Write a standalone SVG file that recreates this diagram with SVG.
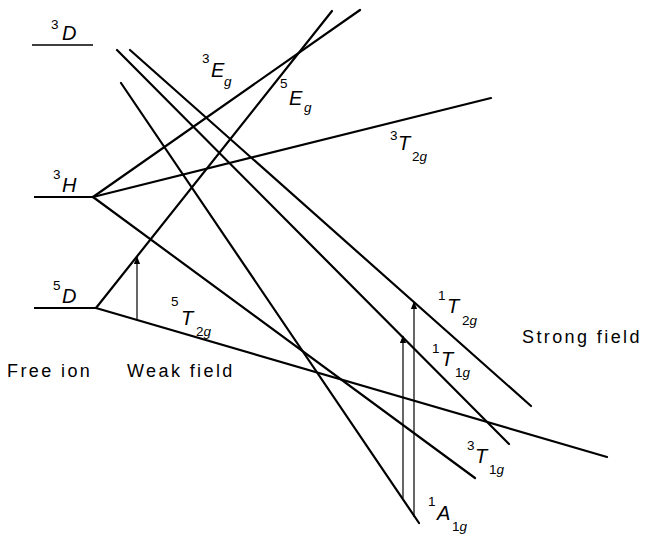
<svg xmlns="http://www.w3.org/2000/svg" width="645" height="536" viewBox="0 0 645 536">
<style>
  .ln{stroke:#000;stroke-width:2.2;fill:none;stroke-linecap:round}
  .lv{stroke:#000;stroke-width:2.2;fill:none}
  .ar{stroke:#000;stroke-width:1.2;fill:none;marker-end:url(#ah)}
  text{font-family:"Liberation Sans",Arial,sans-serif;fill:#000}
  .L{font-size:20px;font-style:italic}
  .s{font-size:13.5px}
  .gi{font-style:italic}
  .cap{font-size:18px;letter-spacing:2.4px}
</style>
<defs>
  <marker id="ah" viewBox="0 0 10 10" refX="9" refY="5" markerWidth="8" markerHeight="8" markerUnits="userSpaceOnUse" orient="auto">
    <path d="M0,1 L10,5 L0,9 Z" fill="#000"/>
  </marker>
</defs>
<g id="levels">
  <line class="lv" x1="32" y1="45" x2="93" y2="45" style="stroke-width:1.6"/>
  <line class="lv" x1="34" y1="197" x2="93" y2="197"/>
  <line class="lv" x1="34" y1="308" x2="96" y2="308"/>
</g>
<g id="connectors">
  <line class="ln" x1="93" y1="197" x2="360" y2="10"/>
  <line class="ln" x1="93" y1="197" x2="491" y2="98"/>
  <line class="ln" x1="93" y1="197" x2="475" y2="478"/>
  <line class="ln" x1="96" y1="308" x2="332" y2="11"/>
  <line class="ln" x1="96" y1="308" x2="607" y2="457"/>
  <line class="ln" x1="130" y1="50" x2="531" y2="406"/>
  <line class="ln" x1="117" y1="50" x2="509" y2="444"/>
  <line class="ln" x1="121" y1="83" x2="419" y2="523"/>
  <line class="ar" x1="137" y1="320" x2="137" y2="257"/>
  <line class="ar" x1="403" y1="498" x2="403" y2="336"/>
  <line class="ar" x1="414" y1="517" x2="414" y2="302"/>
</g>
<g id="label-3D"><text class="s" x="51" y="29">3</text><text class="L" x="62" y="40">D</text></g>
<g id="label-3H"><text class="s" x="53" y="179">3</text><text class="L" x="62" y="192">H</text></g>
<g id="label-5D"><text class="s" x="53" y="290">5</text><text class="L" x="62" y="303">D</text></g>
<g id="label-3Eg"><text class="s" x="202" y="63">3</text><text class="L" x="211" y="77">E</text><text class="s gi" x="224" y="86">g</text></g>
<g id="label-5Eg"><text class="s" x="280" y="88">5</text><text class="L" x="289" y="105">E</text><text class="s gi" x="304" y="112">g</text></g>
<g id="label-3T2g"><text class="s" x="390" y="140">3</text><text class="L" x="398" y="150">T</text><text class="s" x="412" y="161">2<tspan class="gi">g</tspan></text></g>
<g id="label-5T2g"><text class="s" x="171" y="306">5</text><text class="L" x="181" y="325">T</text><text class="s" x="196" y="336">2<tspan class="gi">g</tspan></text></g>
<g id="label-1T2g"><text class="s" x="438" y="300">1</text><text class="L" x="447" y="313">T</text><text class="s" x="462" y="325">2<tspan class="gi">g</tspan></text></g>
<g id="label-1T1g"><text class="s" x="432" y="353">1</text><text class="L" x="441" y="366">T</text><text class="s" x="455" y="377">1<tspan class="gi">g</tspan></text></g>
<g id="label-3T1g"><text class="s" x="467" y="450">3</text><text class="L" x="475" y="463">T</text><text class="s" x="489" y="474">1<tspan class="gi">g</tspan></text></g>
<g id="label-1A1g"><text class="s" x="428" y="506">1</text><text class="L" x="437" y="520">A</text><text class="s" x="452" y="531">1<tspan class="gi">g</tspan></text></g>
<g id="captions">
  <text class="cap" x="7" y="377">Free ion</text>
  <text class="cap" x="127" y="377">Weak field</text>
  <text class="cap" x="522" y="343">Strong field</text>
</g>
</svg>
